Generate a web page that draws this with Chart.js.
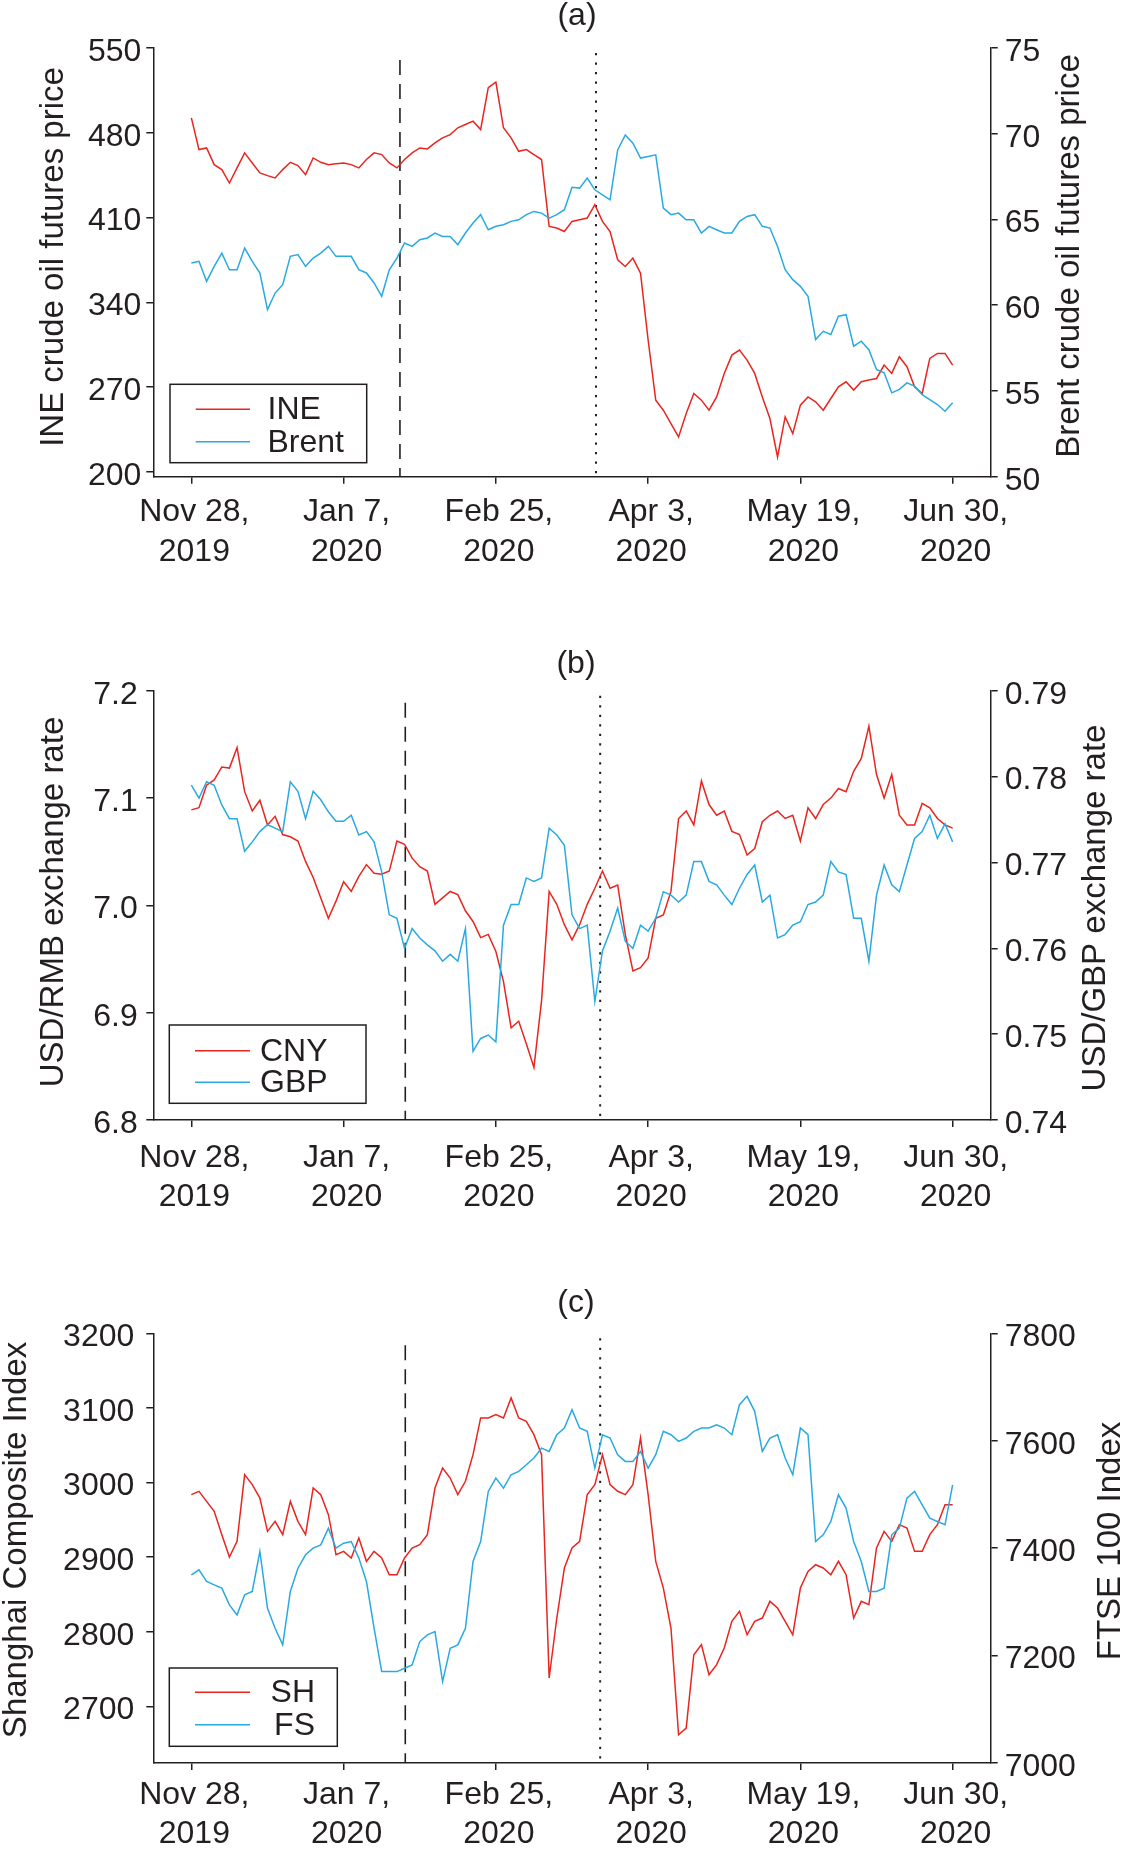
<!DOCTYPE html>
<html>
<head>
<meta charset="utf-8">
<script src="https://cdn.jsdelivr.net/npm/chart.js@4.4.1/dist/chart.umd.min.js"></script>
<style>
  html, body { margin: 0; padding: 0; background: #fff; }
  body { width: 1133px; height: 1855px; position: relative; overflow: hidden; }
  canvas { position: absolute; left: 0; }
</style>
</head>
<body>
<canvas id="panel-a" width="1133" height="620" style="top:0"></canvas>
<canvas id="panel-b" width="1133" height="620" style="top:620px"></canvas>
<canvas id="panel-c" width="1133" height="615" style="top:1240px"></canvas>
<script>
// observation index on x, one tick every 20 observations
const tickIdx = [0, 20, 40, 60, 80, 100];
const tickLabels = [['Nov 28,', '2019'], ['Jan 7,', '2020'], ['Feb 25,', '2020'], ['Apr 3,', '2020'], ['May 19,', '2020'], ['Jun 30,', '2020']];

// (a) oil futures
const ine = [
  492.3, 466.1, 467.5, 453.7, 449.6, 438.5, 451.0, 463.4, 455.1, 446.8,
  444.6, 442.7, 449.6, 455.6, 452.9, 445.4, 459.2, 455.6, 453.7, 454.5,
  455.1, 453.7, 451.0, 457.9, 463.4, 462.0, 455.1, 451.0, 457.9, 463.4,
  467.5, 466.7, 471.6, 475.8, 478.5, 484.1, 486.8, 489.6, 482.7, 517.2,
  521.9, 484.1, 475.8, 464.7, 466.1, 462.0, 457.9, 402.7, 401.3, 398.5,
  406.8, 408.2, 409.6, 420.6, 406.8, 398.5, 375.1, 369.6, 376.5, 364.0,
  308.9, 259.2, 250.9, 239.9, 228.9, 248.2, 264.7, 259.2, 250.9, 261.9,
  281.3, 296.4, 300.6, 292.3, 281.3, 261.9, 244.0, 212.3, 245.4, 231.6,
  255.1, 261.9, 257.8, 250.9, 260.6, 270.2, 274.4, 267.5, 274.4, 275.8,
  277.1, 288.2, 281.3, 295.1, 286.8, 270.2, 264.7, 293.7, 297.8, 297.8,
  288.2
];
const brent = [
  62.46, 62.56, 61.39, 62.27, 63.04, 62.07, 62.07, 63.33, 62.56, 61.88,
  59.74, 60.71, 61.20, 62.85, 62.95, 62.27, 62.75, 63.04, 63.43, 62.85,
  62.85, 62.85, 62.07, 61.88, 61.30, 60.52, 62.07, 62.75, 63.63, 63.43,
  63.82, 63.92, 64.21, 64.01, 64.01, 63.53, 64.21, 64.79, 65.28, 64.40,
  64.60, 64.69, 64.89, 64.98, 65.28, 65.47, 65.37, 65.08, 65.28, 65.57,
  66.88, 66.83, 67.41, 66.73, 66.44, 66.15, 69.06, 69.93, 69.45, 68.58,
  68.67, 68.77, 65.66, 65.28, 65.37, 64.98, 64.98, 64.21, 64.60, 64.40,
  64.21, 64.21, 64.89, 65.18, 65.28, 64.60, 64.50, 63.43, 62.07, 61.49,
  61.10, 60.52, 58.00, 58.48, 58.29, 59.36, 59.45, 57.61, 57.90, 57.41,
  56.25, 56.06, 54.89, 55.09, 55.47, 55.28, 54.79, 54.50, 54.21, 53.82,
  54.31
];

// (b) exchange rates
const cny = [
  7.089, 7.091, 7.112, 7.117, 7.129, 7.128, 7.147, 7.106, 7.088, 7.098,
  7.075, 7.083, 7.066, 7.064, 7.060, 7.041, 7.026, 7.007, 6.988, 7.004,
  7.022, 7.013, 7.027, 7.038, 7.030, 7.029, 7.032, 7.060, 7.057, 7.044,
  7.036, 7.032, 7.001, 7.007, 7.013, 7.010, 6.995, 6.985, 6.970, 6.973,
  6.957, 6.929, 6.886, 6.892, 6.871, 6.849, 6.911, 7.013, 7.001, 6.982,
  6.968, 6.982, 7.001, 7.016, 7.032, 7.016, 7.019, 6.973, 6.939, 6.942,
  6.951, 6.988, 6.991, 7.013, 7.081, 7.088, 7.075, 7.116, 7.094, 7.084,
  7.088, 7.069, 7.066, 7.047, 7.053, 7.078, 7.084, 7.088, 7.081, 7.084,
  7.060, 7.091, 7.081, 7.094, 7.100, 7.109, 7.106, 7.125, 7.137, 7.167,
  7.122, 7.100, 7.122, 7.084, 7.075, 7.075, 7.095, 7.091, 7.081, 7.075,
  7.072
];
const gbp = [
  0.7790, 0.7775, 0.7794, 0.7790, 0.7767, 0.7751, 0.7751, 0.7713, 0.7724, 0.7736,
  0.7744, 0.7740, 0.7736, 0.7794, 0.7783, 0.7751, 0.7783, 0.7773, 0.7759, 0.7748,
  0.7748, 0.7755, 0.7732, 0.7736, 0.7724, 0.7689, 0.7639, 0.7635, 0.7600, 0.7623,
  0.7612, 0.7604, 0.7597, 0.7585, 0.7593, 0.7585, 0.7623, 0.7480, 0.7495, 0.7499,
  0.7491, 0.7627, 0.7651, 0.7651, 0.7682, 0.7678, 0.7682, 0.7740, 0.7732, 0.7720,
  0.7639, 0.7623, 0.7627, 0.7538, 0.7597, 0.7620, 0.7647, 0.7608, 0.7600, 0.7627,
  0.7620, 0.7635, 0.7666, 0.7662, 0.7654, 0.7662, 0.7701, 0.7701, 0.7678, 0.7674,
  0.7662, 0.7651, 0.7670, 0.7686, 0.7697, 0.7654, 0.7662, 0.7612, 0.7616, 0.7627,
  0.7631, 0.7651, 0.7654, 0.7662, 0.7701, 0.7689, 0.7686, 0.7635, 0.7635, 0.7585,
  0.7662, 0.7697, 0.7674, 0.7666, 0.7697, 0.7728, 0.7736, 0.7755, 0.7728, 0.7745,
  0.7724
];

// (c) stock indices
const sh = [
  2983.7, 2988.2, 2974.7, 2961.3, 2930.1, 2900.0, 2921.1, 3010.5, 2997.1, 2979.2,
  2934.5, 2947.9, 2930.1, 2974.7, 2947.9, 2930.1, 2992.6, 2983.7, 2956.9, 2903.2,
  2907.7, 2898.8, 2925.6, 2894.3, 2907.7, 2898.8, 2876.4, 2876.4, 2898.8, 2912.2,
  2916.6, 2930.1, 2992.6, 3019.4, 3006.0, 2983.7, 3001.6, 3037.3, 3086.5, 3086.5,
  3091.0, 3086.5, 3113.3, 3086.5, 3082.0, 3064.1, 3037.3, 2737.9, 2818.0, 2885.4,
  2912.2, 2921.1, 2983.7, 2997.1, 3037.3, 2997.1, 2988.2, 2983.7, 2997.1, 3059.7,
  2983.7, 2894.3, 2858.5, 2804.9, 2661.9, 2670.8, 2769.2, 2782.6, 2742.3, 2755.8,
  2778.1, 2813.9, 2827.3, 2795.9, 2813.9, 2818.3, 2840.7, 2831.7, 2813.9, 2795.9,
  2858.5, 2880.9, 2889.8, 2885.4, 2876.4, 2894.3, 2876.4, 2818.3, 2840.7, 2836.2,
  2912.2, 2934.5, 2921.1, 2943.5, 2939.0, 2907.7, 2907.7, 2930.1, 2943.5, 2970.3,
  2970.3
];
const fs = [
  7350.3, 7359.6, 7337.9, 7331.7, 7325.5, 7294.4, 7275.8, 7313.1, 7319.3, 7393.8,
  7288.2, 7250.9, 7219.9, 7319.3, 7362.7, 7387.6, 7400.0, 7406.2, 7437.3, 7400.0,
  7409.3, 7412.4, 7381.4, 7337.9, 7250.9, 7170.2, 7170.2, 7170.2, 7176.4, 7182.6,
  7226.1, 7238.5, 7244.7, 7151.6, 7213.7, 7219.9, 7250.9, 7375.2, 7412.4, 7505.6,
  7530.4, 7511.8, 7536.7, 7542.9, 7555.3, 7567.7, 7586.3, 7580.1, 7611.2, 7623.6,
  7657.8, 7623.6, 7617.4, 7549.1, 7611.2, 7605.0, 7573.9, 7561.5, 7561.5, 7580.1,
  7549.1, 7573.9, 7617.4, 7611.2, 7598.8, 7605.0, 7617.4, 7623.6, 7623.6, 7629.8,
  7623.6, 7611.2, 7667.1, 7682.6, 7654.7, 7580.1, 7605.0, 7611.2, 7567.7, 7536.7,
  7623.6, 7611.2, 7412.4, 7424.9, 7449.7, 7499.4, 7474.5, 7412.4, 7375.2, 7319.3,
  7319.3, 7325.5, 7424.9, 7437.3, 7493.2, 7505.6, 7480.7, 7455.9, 7449.7, 7443.5,
  7518.0
];

const ineTicks = [200, 270, 340, 410, 480, 550];
const brentTicks = [50, 55, 60, 65, 70, 75];
const cnyTicks = [6.8, 6.9, 7.0, 7.1, 7.2];
const gbpTicks = [0.74, 0.75, 0.76, 0.77, 0.78, 0.79];
const shTicks = [2700, 2800, 2900, 3000, 3100, 3200];
const fsTicks = [7000, 7200, 7400, 7600, 7800];

// event markers (dashed, dotted) in observation index
const eventsA = [27.4, 53.15];
const eventsBC = [28.1, 53.7];

const FONT = "'Liberation Sans', Arial, Helvetica, sans-serif";
const INK = '#231f20';
const RED = '#e8251f';
const BLUE = '#29a9e1';

function points(arr) {
  return arr.map((v, i) => ({ x: i, y: v }));
}

function decor(p) {
  return {
    id: 'decor',
    beforeDatasetsDraw(chart) {
      const { ctx, chartArea: a, scales: { x } } = chart;
      ctx.save();
      ctx.strokeStyle = INK;
      ctx.lineWidth = 1.6;
      ctx.setLineDash([15, 9]);
      let px = x.getPixelForValue(p.events[0]);
      ctx.beginPath();
      ctx.moveTo(px, a.top + 12);
      ctx.lineTo(px, a.bottom);
      ctx.stroke();
      ctx.lineWidth = 2;
      ctx.setLineDash([2.2, 7.3]);
      px = x.getPixelForValue(p.events[1]);
      ctx.beginPath();
      ctx.moveTo(px, a.top + 5);
      ctx.lineTo(px, a.bottom);
      ctx.stroke();
      ctx.restore();
    },
    afterDraw(chart) {
      const { ctx } = chart;
      ctx.save();
      ctx.fillStyle = INK;
      ctx.textAlign = 'center';
      ctx.textBaseline = 'middle';
      ctx.font = `32px ${FONT}`;
      ctx.fillText(p.tag, p.tagX, p.tagY);

      ctx.font = `33px ${FONT}`;
      for (const t of p.titles) {
        ctx.save();
        ctx.translate(t.x, t.y);
        ctx.rotate(-Math.PI / 2);
        ctx.fillText(t.text, 0, 0);
        ctx.restore();
      }

      const L = p.legend;
      ctx.strokeStyle = INK;
      ctx.lineWidth = 1.5;
      ctx.strokeRect(L.x, L.y, L.w, L.h);
      ctx.font = `32px ${FONT}`;
      ctx.textAlign = L.align;
      chart.data.datasets.forEach((ds, k) => {
        const y = L.rows[k];
        ctx.strokeStyle = ds.borderColor;
        ctx.lineWidth = 1.6;
        ctx.beginPath();
        ctx.moveTo(L.lineX0, y);
        ctx.lineTo(L.lineX1, y);
        ctx.stroke();
        ctx.fillText(ds.label, L.textX, y + 1);
      });
      ctx.restore();
    }
  };
}

function yScale(pos, min, max, ticks, digits, pad, width) {
  return {
    type: 'linear',
    position: pos,
    min: min,
    max: max,
    afterBuildTicks: s => { s.ticks = ticks.map(v => ({ value: v })); },
    afterFit: s => { s.width = width; },
    ticks: {
      font: { family: FONT, size: 32 },
      color: INK,
      padding: pad,
      labelOffset: 4,
      callback: v => Number(v).toFixed(digits)
    },
    grid: { drawOnChartArea: false, drawTicks: true, tickLength: 7, color: INK, lineWidth: 1.5 },
    border: { display: true, color: INK, width: 1.5 }
  };
}

function makePanel(id, p) {
  const canvas = document.getElementById(id);
  return new Chart(canvas, {
    type: 'line',
    data: {
      datasets: [
        { label: p.names[0], data: points(p.left), yAxisID: 'y', borderColor: RED, order: 2 },
        { label: p.names[1], data: points(p.right), yAxisID: 'y1', borderColor: BLUE, order: 1 }
      ]
    },
    options: {
      responsive: false,
      animation: false,
      devicePixelRatio: 1,
      layout: { padding: { top: p.top, left: 0, right: 0, bottom: 0 } },
      elements: {
        point: { radius: 0 },
        line: { borderWidth: 1.5, tension: 0, fill: false }
      },
      plugins: {
        legend: { display: false },
        title: { display: false },
        tooltip: { enabled: false }
      },
      scales: {
        x: {
          type: 'linear',
          min: -5,
          max: 105,
          afterBuildTicks: s => { s.ticks = tickIdx.map(v => ({ value: v })); },
          afterFit: s => { s.height = canvas.height - p.bottom; },
          ticks: {
            font: { family: FONT, size: 32, lineHeight: 1.24 },
            color: INK,
            padding: p.xPad,
            labelOffset: 3,
            maxRotation: 0,
            autoSkip: false,
            callback: v => tickLabels[tickIdx.indexOf(v)]
          },
          grid: { drawOnChartArea: false, drawTicks: true, tickLength: 7, color: INK, lineWidth: 1.5 },
          border: { display: true, color: INK, width: 1.5 }
        },
        y: yScale('left', p.leftRange[0], p.leftRange[1], p.leftTicks, p.leftDigits, p.leftPad, 153.3),
        y1: yScale('right', p.rightRange[0], p.rightRange[1], p.rightTicks, p.rightDigits, 7, 142.3)
      }
    },
    plugins: [decor(p)]
  });
}

makePanel('panel-a', {
  names: ['INE', 'Brent'], left: ine, right: brent,
  top: 48, bottom: 476.7, xPad: 9,
  leftRange: [196, 550], leftTicks: ineTicks, leftDigits: 0, leftPad: 5,
  rightRange: [50, 75], rightTicks: brentTicks, rightDigits: 0,
  tag: '(a)', tagX: 577, tagY: 16,
  titles: [
    { text: 'INE crude oil futures price', x: 53.6, y: 257 },
    { text: 'Brent crude oil futures price', x: 1069.5, y: 256 }
  ],
  legend: { x: 170, y: 384.3, w: 196.7, h: 78.4, rows: [409.3, 441.7], lineX0: 195.7, lineX1: 250, textX: 267.5, align: 'left' },
  events: eventsA
});

makePanel('panel-b', {
  names: ['CNY', 'GBP'], left: cny, right: gbp,
  top: 70.8, bottom: 500, xPad: 11,
  leftRange: [6.8, 7.2], leftTicks: cnyTicks, leftDigits: 1, leftPad: 8.5,
  rightRange: [0.74, 0.79], rightTicks: gbpTicks, rightDigits: 2,
  tag: '(b)', tagX: 576, tagY: 44,
  titles: [
    { text: 'USD/RMB exchange rate', x: 53.6, y: 282 },
    { text: 'USD/GBP exchange rate', x: 1096, y: 288 }
  ],
  legend: { x: 169.3, y: 405, w: 196.7, h: 78.3, rows: [430.7, 462.3], lineX0: 195, lineX1: 250, textX: 260, align: 'left' },
  events: eventsBC
});

makePanel('panel-c', {
  names: ['SH', 'FS'], left: sh, right: fs,
  top: 93.3, bottom: 523, xPad: 5,
  leftRange: [2624, 3200], leftTicks: shTicks, leftDigits: 0, leftPad: 12,
  rightRange: [7000, 7800], rightTicks: fsTicks, rightDigits: 0,
  tag: '(c)', tagX: 576, tagY: 63.5,
  titles: [
    { text: 'Shanghai Composite Index', x: 17.2, y: 300 },
    { text: 'FTSE 100 Index', x: 1111, y: 301 }
  ],
  legend: { x: 169.3, y: 428, w: 168, h: 78.3, rows: [452.3, 484.7], lineX0: 195, lineX1: 250, textX: 315, align: 'right' },
  events: eventsBC
});
</script>
</body>
</html>
